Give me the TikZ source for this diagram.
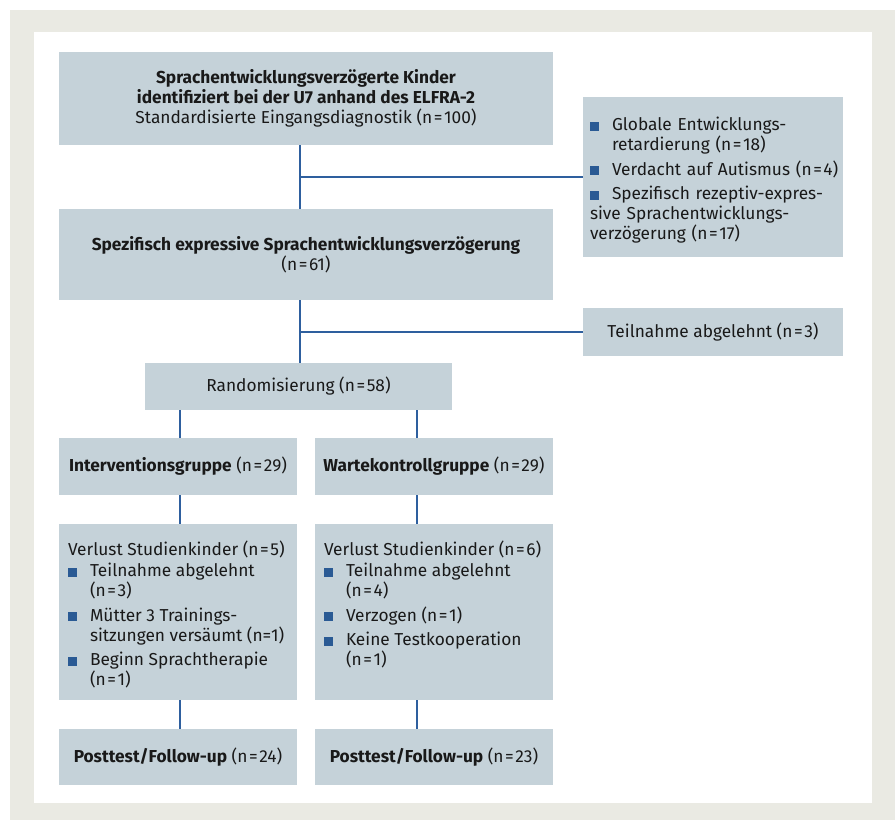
\documentclass[tikz,border=0pt]{standalone}
\usepackage{fontspec}
\setmainfont{Fira Sans}
\definecolor{framegray}{HTML}{EAEAE3}
\definecolor{boxgray}{HTML}{C5D2D9}
\definecolor{lineblue}{HTML}{2E5F9E}
\definecolor{bulletblue}{HTML}{2A5A94}
\newcommand{\bsq}{\textcolor{bulletblue}{\rule{9pt}{9pt}}}
\newcommand{\bitem}[2][4.5pt]{\par\vspace{#1}\hangindent=22pt\hangafter=1\noindent\makebox[22pt][l]{\bsq}#2}
\newcommand{\nn}[1]{(n\hspace{1.6pt}=\hspace{1.6pt}#1)}

\begin{document}
\begin{tikzpicture}[
  x=1pt, y=-1pt,
  every node/.style={font=\fontsize{17.3}{20}\selectfont, text=black!90},
  stage/.style={fill=boxgray, inner sep=0pt, align=center},
  link/.style={draw=lineblue, line width=1.8pt}
]
  \fill[framegray] (10,10) rectangle (895,820);
  \fill[white] (34,32) rectangle (872,803);
  \useasboundingbox (0,0) rectangle (895,820);

  \node[stage, minimum width=494pt, minimum height=93pt] (kids) at (306,98.5)
    {\textbf{Sprachentwicklungsverzögerte Kinder}\\
     \textbf{identifiziert bei der U7 anhand des ELFRA-2}\\
     Standardisierte Eingangsdiagnostik \nn{100}};
  \node[stage, align=left, text width=246pt, inner xsep=7pt, minimum height=160pt] (excl) at (713,177)
    {\bitem[0pt]{Globale Entwicklungs-\newline retardierung \nn{18}}
     \bitem{\mbox{Verdacht auf Autismus \nn{4}}}
     \bitem{Spezifisch rezeptiv-expres-\newline sive Sprachentwicklungs-\newline verzögerung \nn{17}}};
  \node[stage, minimum width=494pt, minimum height=91pt] (spec) at (306,254.5)
    {\textbf{Spezifisch expressive Sprachentwicklungsverzögerung}\\ \nn{61}};
  \node[stage, minimum width=260pt, minimum height=48pt] (decl) at (713,332)
    {Teilnahme abgelehnt \nn{3}};
  \node[stage, minimum width=307pt, minimum height=47pt] (rand) at (298.5,386.5)
    {Randomisierung \nn{58}};
  \node[stage, minimum width=238pt, minimum height=57pt] (ig) at (178,466.5)
    {\textbf{Interventionsgruppe} \nn{29}};
  \node[stage, minimum width=238pt, minimum height=57pt] (wk) at (434,466.5)
    {\textbf{Wartekontrollgruppe} \nn{29}};
  \node[stage, inner xsep=9pt, minimum width=238pt, minimum height=176pt] (lossI) at (178,612)
    {\parbox[c][142pt][t]{220pt}{\raggedright
     Verlust Studienkinder \nn{5}
     \bitem[1pt]{Teilnahme abgelehnt\newline \nn{3}}
     \bitem{Mütter 3 Trainings-\newline \mbox{sitzungen versäumt (n=1)}}
     \bitem{Beginn Sprachtherapie\newline \nn{1}}}};
  \node[stage, inner xsep=9pt, minimum width=238pt, minimum height=176pt] (lossW) at (434,612)
    {\parbox[c][142pt][t]{220pt}{\raggedright
     Verlust Studienkinder \nn{6}
     \bitem[1pt]{Teilnahme abgelehnt\newline \nn{4}}
     \bitem{Verzogen \nn{1}}
     \bitem{Keine Testkooperation\newline \nn{1}}}};
  \node[stage, minimum width=238pt, minimum height=56pt] (postI) at (178,757)
    {\textbf{Posttest/Follow-up} \nn{24}};
  \node[stage, minimum width=238pt, minimum height=56pt] (postW) at (434,757)
    {\textbf{Posttest/Follow-up} \nn{23}};

  \draw[link] ([xshift=-6pt]kids.south) -- ([xshift=-6pt]spec.north);
  \draw[link] (excl.west) -- ([xshift=-6pt]spec.north |- excl.west);
  \draw[link] ([xshift=-6pt]spec.south) -- ([xshift=-6pt]spec.south |- rand.north);
  \draw[link] (decl.west) -- ([xshift=-6pt]spec.south |- decl.west);
  \draw[link] ([xshift=2pt]ig.north) -- ([xshift=2pt]ig.north |- rand.south);
  \draw[link] ([xshift=-17pt]wk.north) -- ([xshift=-17pt]wk.north |- rand.south);
  \draw[link] ([xshift=2pt]ig.south) -- ([xshift=2pt]lossI.north);
  \draw[link] ([xshift=-17pt]wk.south) -- ([xshift=-17pt]lossW.north);
  \draw[link] ([xshift=2pt]lossI.south) -- ([xshift=2pt]postI.north);
  \draw[link] ([xshift=-17pt]lossW.south) -- ([xshift=-17pt]postW.north);
\end{tikzpicture}
\end{document}
